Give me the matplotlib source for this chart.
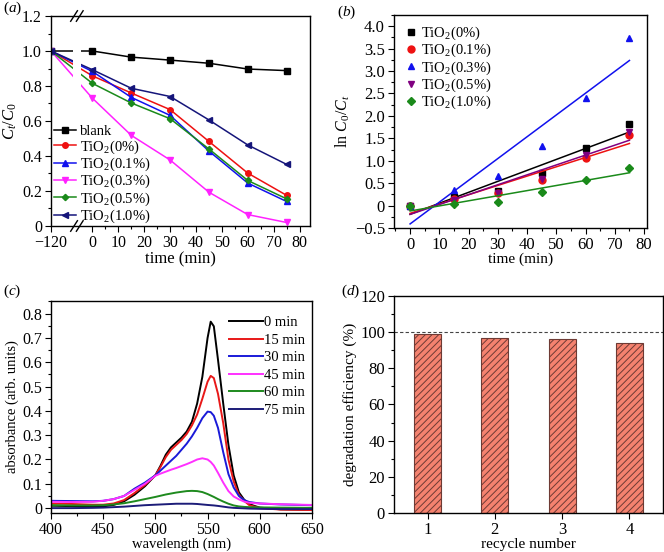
import numpy as np
import matplotlib
matplotlib.use("Agg")
import matplotlib.pyplot as plt
import matplotlib.transforms as mtransforms
from matplotlib.patches import Rectangle
from matplotlib.ticker import FuncFormatter, MultipleLocator, FixedLocator

plt.rcParams['font.family'] = ['Liberation Serif', 'DejaVu Serif']
plt.rcParams['mathtext.fontset'] = 'custom'
plt.rcParams['mathtext.rm'] = 'Liberation Serif'
plt.rcParams['mathtext.it'] = 'Liberation Serif:italic'
plt.rcParams['hatch.linewidth'] = 0.7

# ---- (a) photodegradation curves
time_a = np.array([-120, 0, 15, 30, 45, 60, 75])
blank = [1.0, 1.0, 0.965, 0.948, 0.930, 0.897, 0.888]
ti_0 = [1.0, 0.858, 0.760, 0.665, 0.483, 0.302, 0.175]
ti_01 = [1.0, 0.883, 0.735, 0.632, 0.428, 0.245, 0.140]
ti_03 = [1.0, 0.730, 0.518, 0.377, 0.193, 0.065, 0.020]
ti_05 = [1.0, 0.815, 0.703, 0.613, 0.440, 0.260, 0.155]
ti_10 = [1.0, 0.893, 0.787, 0.740, 0.606, 0.463, 0.352]
labels_a = ['blank', 'TiO$_2$(0%)', 'TiO$_2$(0.1%)', 'TiO$_2$(0.3%)',
            'TiO$_2$(0.5%)', 'TiO$_2$(1.0%)']

# ---- (b) kinetics ln(C0/Ct)
time_b = np.array([0, 15, 30, 45, 60, 75])
ln_0 = [0, 0.18, 0.33, 0.72, 1.28, 1.83]
ln_01 = [0, 0.14, 0.29, 0.57, 1.05, 1.58]
ln_03 = [0, 0.35, 0.66, 1.33, 2.40, 3.74]
ln_05 = [0, 0.13, 0.27, 0.60, 1.13, 1.65]
ln_10 = [0, 0.04, 0.09, 0.30, 0.56, 0.84]
labels_b = ['TiO$_2$(0%)', 'TiO$_2$(0.1%)', 'TiO$_2$(0.3%)',
            'TiO$_2$(0.5%)', 'TiO$_2$(1.0%)']

# ---- (c) absorption spectra
wl = [400, 420, 440, 450, 460, 470, 480, 490, 500, 505, 510, 515, 520, 525, 530,
      535, 540, 545, 550, 553, 556, 560, 565, 570, 575, 580, 585, 590, 600, 620, 650]
abs_0 = [0.010, 0.008, 0.006, 0.007, 0.013, 0.028, 0.055, 0.090, 0.135, 0.175, 0.220,
         0.250, 0.270, 0.290, 0.315, 0.355, 0.430, 0.540, 0.700, 0.767, 0.748, 0.610,
         0.430, 0.260, 0.135, 0.065, 0.035, 0.016, 0.002, -0.005, -0.007]
abs_15 = [0.019, 0.017, 0.014, 0.014, 0.019, 0.033, 0.062, 0.095, 0.135, 0.170, 0.210,
          0.240, 0.260, 0.280, 0.305, 0.340, 0.385, 0.450, 0.520, 0.544, 0.535, 0.470,
          0.350, 0.200, 0.110, 0.055, 0.030, 0.012, 0.000, -0.006, -0.008]
abs_30 = [0.030, 0.029, 0.028, 0.030, 0.037, 0.050, 0.080, 0.105, 0.135, 0.155, 0.175,
          0.195, 0.215, 0.240, 0.265, 0.295, 0.330, 0.370, 0.397, 0.395, 0.380, 0.330,
          0.230, 0.140, 0.085, 0.050, 0.033, 0.025, 0.019, 0.015, 0.012]
abs_45 = [0.026, 0.025, 0.026, 0.030, 0.037, 0.050, 0.075, 0.100, 0.133, 0.142, 0.150,
          0.158, 0.165, 0.173, 0.181, 0.190, 0.200, 0.205, 0.200, 0.190, 0.175, 0.145,
          0.105, 0.070, 0.048, 0.036, 0.027, 0.022, 0.019, 0.016, 0.013]
abs_60 = [0.012, 0.011, 0.011, 0.012, 0.015, 0.020, 0.028, 0.037, 0.046, 0.051, 0.056,
          0.060, 0.064, 0.067, 0.070, 0.071, 0.070, 0.066, 0.058, 0.052, 0.046, 0.037,
          0.027, 0.018, 0.011, 0.007, 0.005, 0.004, 0.003, 0.002, 0.001]
abs_75 = [0.000, 0.000, 0.001, 0.002, 0.004, 0.006, 0.009, 0.012, 0.014, 0.015, 0.016,
          0.017, 0.018, 0.018, 0.018, 0.018, 0.017, 0.015, 0.013, 0.012, 0.011, 0.009,
          0.006, 0.003, 0.001, 0.000, -0.001, -0.002, -0.003, -0.004, -0.004]
labels_c = ['0 min', '15 min', '30 min', '45 min', '60 min', '75 min']

# ---- (d) recycling
cycles = [1, 2, 3, 4]
efficiency = [99, 97, 96, 94]


def zero_fmt(dec):
    def f(v, pos):
        if abs(v) < 1e-9:
            return '0'
        return f'{v:.{dec}f}'.replace('-', '\u2212')
    return FuncFormatter(f)


def style(ax, size):
    ax.tick_params(which='both', direction='out', top=False, right=False,
                   labelsize=size, width=0.8, pad=2.5)
    ax.tick_params(which='major', length=4)
    ax.tick_params(which='minor', length=2.2)
    for s in ax.spines.values():
        s.set_linewidth(1.0)


fig = plt.figure(figsize=(6.64, 5.52), dpi=100)
ax_a = fig.add_axes([0.0768, 0.5906, 0.390, 0.3804])
ax_b = fig.add_axes([0.5934, 0.5870, 0.381, 0.3858])
ax_c = fig.add_axes([0.0768, 0.0707, 0.393, 0.3840])
ax_d = fig.add_axes([0.5934, 0.0707, 0.405, 0.3931])

# ---------- (a) ----------
pos_a = np.where(time_a < 0, time_a + 104, time_a)   # broken axis: -120 drawn at -16
cols_a = ['black', '#ee1111', '#1111ee', '#ff22ff', '#1a8a1a', '#15157a']
marks_a = ['s', 'o', '^', 'v', 'D', '<']
for ys, c, m, lab in zip([blank, ti_0, ti_01, ti_03, ti_05, ti_10], cols_a, marks_a, labels_a):
    ms = 3.2 if m == 'D' else 4
    ax_a.plot(pos_a, ys, color=c, marker=m, ms=ms, lw=1.1, label=lab)
ax_a.set_xlim(-16, 84)
ax_a.set_ylim(0, 1.2)
ax_a.xaxis.set_major_locator(FixedLocator([-16, 0, 10, 20, 30, 40, 50, 60, 70, 80]))
ax_a.xaxis.set_major_formatter(FuncFormatter(
    lambda v, p: '\u2212120' if v < 0 else f'{v:.0f}'))
ax_a.xaxis.set_minor_locator(FixedLocator([5, 15, 25, 35, 45, 55, 65, 75]))
ax_a.yaxis.set_major_locator(MultipleLocator(0.2))
ax_a.yaxis.set_minor_locator(MultipleLocator(0.1))
ax_a.yaxis.set_major_formatter(zero_fmt(1))
style(ax_a, 11.5)
ax_a.set_xlabel('time (min)', fontsize=12, labelpad=0)
ax_a.set_ylabel('$C_t/C_0$', fontsize=12, labelpad=2)
trans = mtransforms.blended_transform_factory(ax_a.transData, ax_a.transAxes)
ax_a.add_patch(Rectangle((-7.6, 0), 3.2, 1, transform=trans, facecolor='white',
                         edgecolor='none', zorder=2.2))
for yb in (0, 1):
    for off in (-1.1, 1.1):
        ax_a.plot([-6 + off - 1.3, -6 + off + 1.3], [yb - 0.025, yb + 0.025],
                  transform=trans, color='black', lw=1.0, clip_on=False, zorder=5)
ax_a.legend(loc='lower left', bbox_to_anchor=(0.012, 0.005), frameon=False,
            fontsize=10.5, handlelength=1.5, handletextpad=0.25, labelspacing=0.0,
            borderaxespad=0, borderpad=0)

# ---------- (b) ----------
cols_b = ['black', '#ee1111', '#1111ee', '#800080', '#1a8a1a']
marks_b = ['s', 'o', '^', 'v', 'D']
for ys, c, m, lab in zip([ln_0, ln_01, ln_03, ln_05, ln_10], cols_b, marks_b, labels_b):
    ms = 4 if m == 'D' else 5
    ax_b.plot(time_b, ys, ls='none', color=c, marker=m, ms=ms, label=lab)
    k, b0 = np.polyfit(time_b, ys, 1)
    ends = np.array([time_b[0], time_b[-1]])
    ax_b.plot(ends, k * ends + b0, color=c, lw=1.1)
ax_b.set_xlim(-5.5, 81)
ax_b.set_ylim(-0.5, 4.25)
ax_b.xaxis.set_major_locator(MultipleLocator(10))
ax_b.xaxis.set_minor_locator(MultipleLocator(5))
ax_b.yaxis.set_major_locator(MultipleLocator(0.5))
ax_b.yaxis.set_minor_locator(MultipleLocator(0.25))
ax_b.yaxis.set_major_formatter(zero_fmt(1))
style(ax_b, 12)
ax_b.set_xlabel('time (min)', fontsize=11, labelpad=0)
ax_b.set_ylabel('ln $C_0/C_t$', fontsize=11.5, labelpad=2)
ax_b.legend(loc='upper left', bbox_to_anchor=(0.045, 0.955), frameon=False,
            fontsize=10.5, handlelength=0.8, handletextpad=0.3, labelspacing=0.0,
            borderaxespad=0, borderpad=0)

# ---------- (c) ----------
cols_c = ['black', '#e81818', '#1a1ad8', '#ff30ff', '#1e8a1e', '#1c1c78']
for ys, c, lab in zip([abs_0, abs_15, abs_30, abs_45, abs_60, abs_75], cols_c, labels_c):
    ax_c.plot(wl, ys, color=c, lw=1.4, label=lab)
ax_c.set_xlim(400, 650)
ax_c.set_ylim(-0.02, 0.852)
ax_c.xaxis.set_major_locator(MultipleLocator(50))
ax_c.xaxis.set_minor_locator(MultipleLocator(25))
ax_c.yaxis.set_major_locator(MultipleLocator(0.1))
ax_c.yaxis.set_minor_locator(MultipleLocator(0.05))
ax_c.yaxis.set_major_formatter(zero_fmt(1))
style(ax_c, 11.5)
ax_c.set_xlabel('wavelength (nm)', fontsize=10.5, labelpad=0)
ax_c.set_ylabel('absorbance (arb. units)', fontsize=10.5, labelpad=2)
ax_c.legend(loc='upper right', bbox_to_anchor=(0.975, 0.93), frameon=False,
            fontsize=10.5, handlelength=2.3, handletextpad=0.1, labelspacing=0.3,
            borderaxespad=0, borderpad=0)

# ---------- (d) ----------
ax_d.bar(cycles, efficiency, width=0.4, color='#f5826f', edgecolor='#6e3a34',
         linewidth=0.8, hatch='/////')
ax_d.axhline(100, color='#444444', ls=(0, (3, 2)), lw=0.8)
ax_d.set_xlim(0.5, 4.5)
ax_d.set_ylim(0, 120)
ax_d.xaxis.set_major_locator(FixedLocator(cycles))
ax_d.yaxis.set_major_locator(MultipleLocator(20))
ax_d.yaxis.set_minor_locator(MultipleLocator(10))
style(ax_d, 12)
ax_d.set_xlabel('recycle number', fontsize=11, labelpad=0)
ax_d.set_ylabel('degradation efficiency (%)', fontsize=11, labelpad=2)

# panel letters
for x, y, t in [(0.005, 0.985, '($a$)'), (0.507, 0.978, '($b$)'),
                (0.005, 0.472, '($c$)'), (0.513, 0.472, '($d$)')]:
    fig.text(x, y, t, fontsize=11, va='center', ha='left')

fig.savefig('out.png', dpi=100)
